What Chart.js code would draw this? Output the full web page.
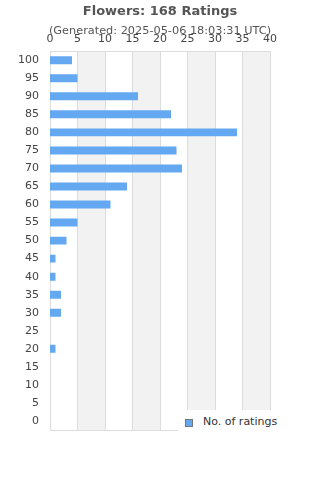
<!DOCTYPE html>
<html>
<head>
<meta charset="utf-8">
<script src="https://cdn.jsdelivr.net/npm/chart.js@4"></script>
<style>
  html, body { margin: 0; padding: 0; background: #fff; }
  #wrap { position: relative; width: 320px; height: 480px; font-family: "DejaVu Sans", sans-serif; }
  #title { position: absolute; left: 0; width: 320px; top: 3px; text-align: center; font-size: 13px; font-weight: bold; color: #555; }
  #subtitle { position: absolute; left: 0; width: 320px; top: 24px; text-align: center; font-size: 11.3px; color: #555; }
  #legend { position: absolute; left: 178px; top: 410px; width: 142px; height: 22px; background: #fff; font-size: 11px; color: #333; }
  #legend .box { position: absolute; left: 7px; top: 9px; width: 6px; height: 6px; border: 1px solid #777; }
  #legend .txt { position: absolute; left: 25px; top: 5px; }
</style>
</head>
<body>
<div id="wrap">
  <canvas id="chart" width="320" height="480"></canvas>
  <div id="title">Flowers: 168 Ratings</div>
  <div id="subtitle">(Generated: 2025-05-06 18:03:31 UTC)</div>
  <div id="legend"><span class="box"></span><span class="txt"></span></div>
</div>
<script>
    const ratingLabels = ['100', '95', '90', '85', '80', '75', '70', '65', '60', '55', '50',
        '45', '40', '35', '30', '25', '20', '15', '10', '5', '0'];
    const ratingCounts = [4, 5, 16, 22, 34, 23, 24, 14, 11, 5, 3, 1, 1, 2, 2, 0, 1, 0, 0, 0, 0];
    const seriesLabel = 'No. of ratings';
    const xMax = 40;
    const xStep = 5;

    const barColor = '#63a8f0';
    const textColor = '#444';

    // alternating column bands + frame around the plot
    const bandsPlugin = {
        id: 'bands',
        beforeDatasetsDraw(chart) {
            const { ctx, chartArea: a, scales: { x } } = chart;
            ctx.save();
            ctx.fillStyle = '#f2f2f2';
            for (let v = xStep; v < xMax; v += xStep * 2) {
                const l = x.getPixelForValue(v);
                const r = x.getPixelForValue(v + xStep);
                ctx.fillRect(l, a.top, r - l, a.bottom - a.top);
            }
            ctx.strokeStyle = '#dcdcdc';
            ctx.lineWidth = 1;
            for (let v = 0; v <= xMax; v += xStep) {
                const px = Math.round(x.getPixelForValue(v)) + 0.5;
                ctx.beginPath();
                ctx.moveTo(px, a.top);
                ctx.lineTo(px, a.bottom);
                ctx.stroke();
            }
            ctx.strokeRect(Math.round(a.left) + 0.5, Math.round(a.top) + 0.5,
                Math.round(a.right - a.left), Math.round(a.bottom - a.top));
            ctx.restore();
        }
    };

    const legendEl = document.querySelector('#legend');
    legendEl.querySelector('.txt').textContent = seriesLabel;
    legendEl.querySelector('.box').style.background = barColor;

    new Chart(document.getElementById('chart'), {
        type: 'bar',
        data: {
            labels: ratingLabels,
            datasets: [{
                label: seriesLabel,
                data: ratingCounts,
                backgroundColor: barColor,
                barPercentage: 0.44,
                categoryPercentage: 1,
            }]
        },
        options: {
            indexAxis: 'y',
            responsive: false,
            animation: false,
            layout: { padding: { top: 28, left: 7, right: 50, bottom: 50 } },
            plugins: {
                legend: { display: false },
                tooltip: { enabled: false },
            },
            scales: {
                x: {
                    position: 'top',
                    min: 0,
                    max: xMax,
                    ticks: { stepSize: xStep, color: textColor, padding: 5, font: { family: 'DejaVu Sans', size: 11 } },
                    grid: { display: false, drawTicks: false },
                    border: { display: false },
                },
                y: {
                    ticks: { color: textColor, padding: 11, autoSkip: false, font: { family: 'DejaVu Sans', size: 11 } },
                    grid: { display: false, drawTicks: false },
                    border: { display: false },
                }
            }
        },
        plugins: [bandsPlugin]
    });
</script>
</body>
</html>
